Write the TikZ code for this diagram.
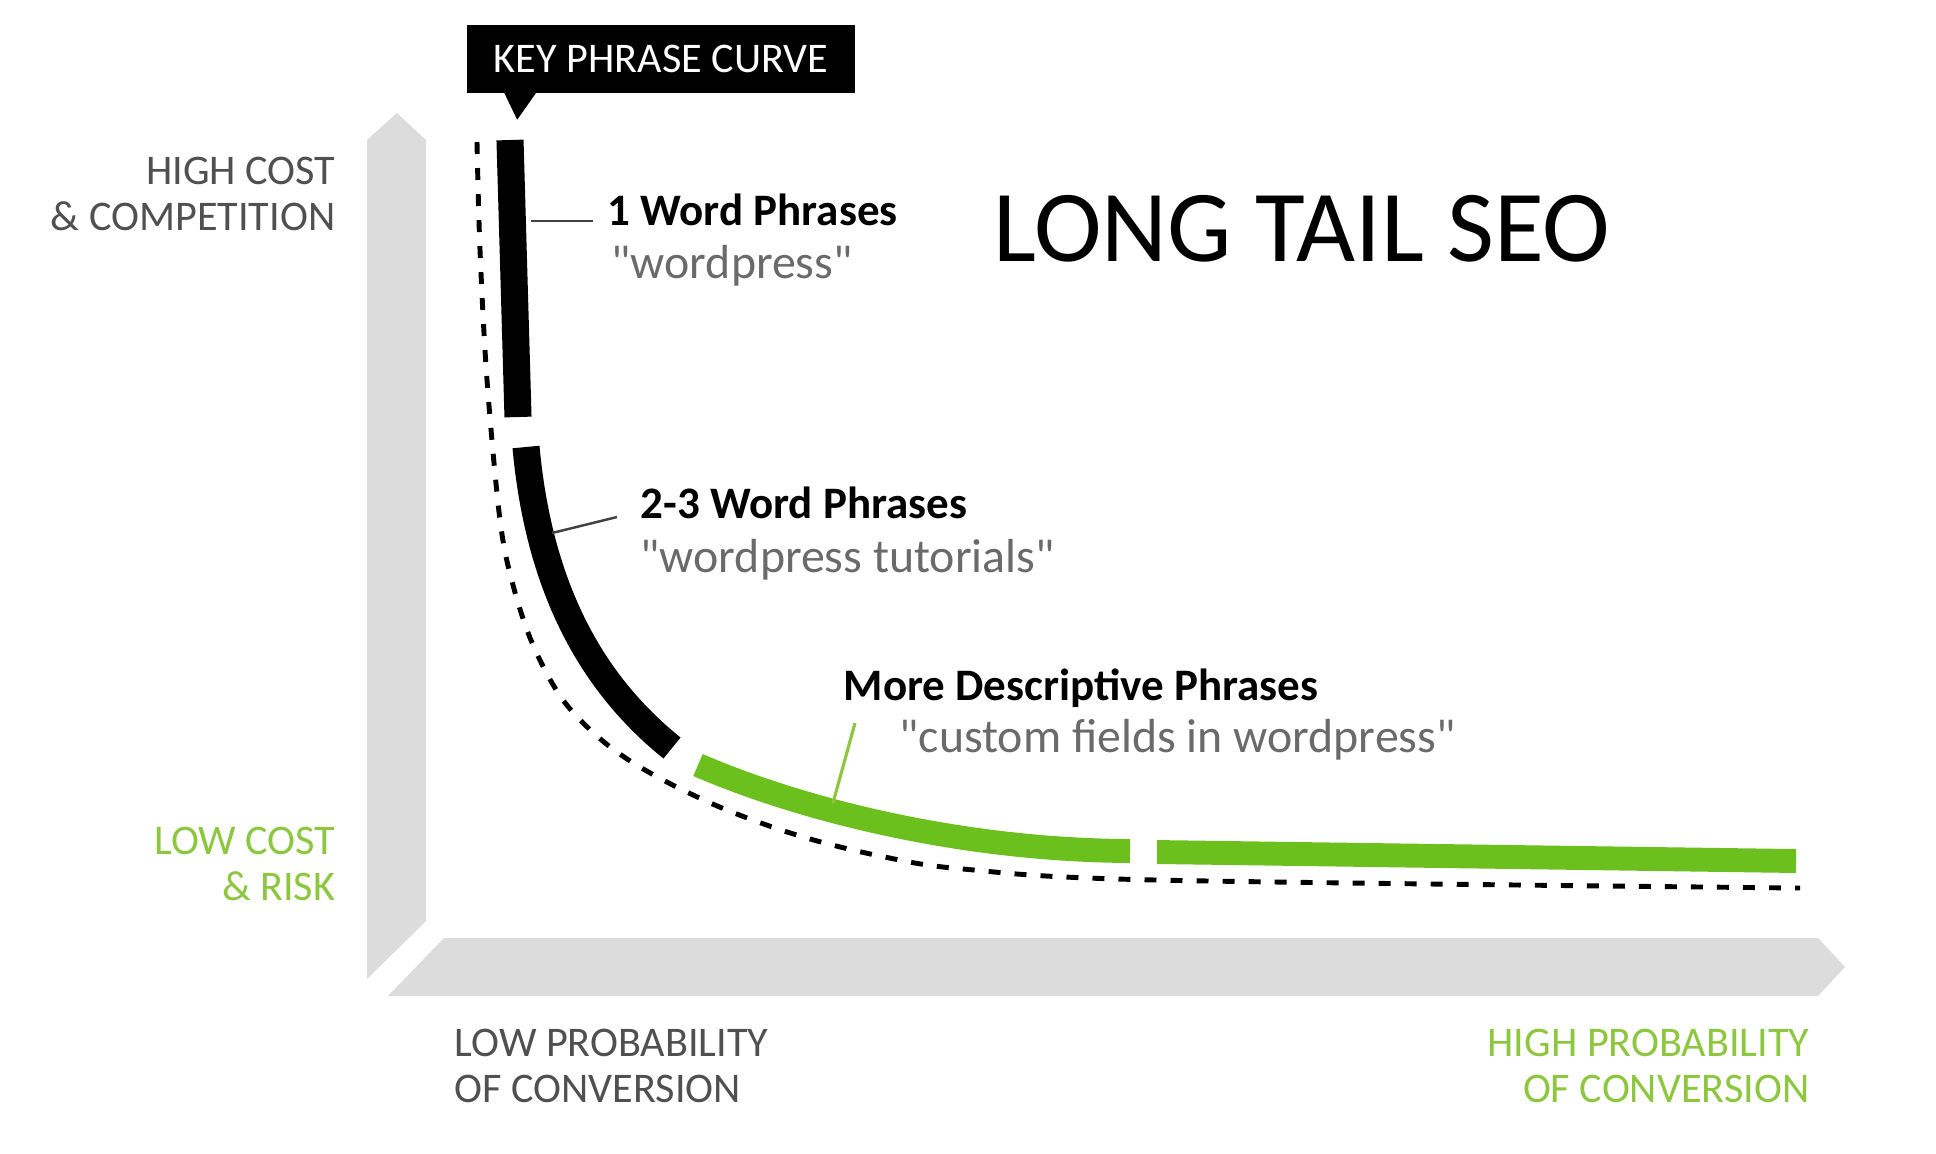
\documentclass[tikz,border=0pt]{standalone}
\usepackage{fontspec}
\setmainfont{Carlito}
\usepackage{tikz}
\usetikzlibrary{positioning}
\usepackage{xcolor}
\definecolor{barGray}{HTML}{DCDCDC}
\definecolor{capGray}{HTML}{505050}
\definecolor{quoteGray}{HTML}{6A6A6A}
\definecolor{curveGreen}{HTML}{6CC01E}
\definecolor{labelGreen}{HTML}{8DC63F}

\begin{document}
\begin{tikzpicture}[x=0.01cm, y=-0.01cm,
        axislabel/.style={font=\fontsize{12}{13}\selectfont, inner sep=0pt, text=capGray},
        phrase/.style={font=\bfseries\fontsize{12.8}{14}\selectfont, inner sep=0pt, anchor=base west},
        example/.style={font=\fontsize{13.6}{15}\selectfont, inner sep=0pt, anchor=base west, text=quoteGray},
        blackpart/.style={line width=7.7pt, black},
        greenpart/.style={line width=6.8pt, curveGreen},
        dashline/.style={line width=1.4pt, dash pattern=on 3.4pt off 4pt},
        leader/.style={line width=0.7pt, black!75}]
        \useasboundingbox (0,0) rectangle (1936,1153);
        % Axes
        \fill[barGray] (367,140) -- (397,113) -- (426,140) -- (426,921) -- (367,979) -- cycle;
        \fill[barGray] (444,938) -- (1818,938) -- (1845,967) -- (1818,996) -- (388,996) -- cycle;
        % Axis labels
        \node[axislabel, anchor=east, align=right] (highcost) at (336,194) {HIGH COST\\\& COMPETITION};
        \node[axislabel, anchor=east, align=right, text=labelGreen] (lowcost) at (336,864) {LOW COST\\\& RISK};
        \node[axislabel, anchor=west, align=left] (lowprob) at (454,1066) {LOW PROBABILITY\\OF CONVERSION};
        \node[axislabel, anchor=east, align=right, text=labelGreen] (highprob) at (1810,1066) {HIGH PROBABILITY\\OF CONVERSION};
        % Title
        \node[font=\fontsize{29}{32}\selectfont, inner sep=0pt, anchor=west] (title) at (993,229) {LONG TAIL SEO};
        % Key phrase box
        \node[fill=black, text=white, font=\fontsize{12}{14}\selectfont, minimum width=3.88cm, minimum height=0.68cm] (keybox) at (661,59) {KEY PHRASE CURVE};
        \fill (keybox.south west) ++(38,-1) -- ++(13,27) -- ++(19,-27) -- cycle;
        % Dashed curve
        \draw[dashline] plot[smooth, tension=0.55] coordinates {(477,142) (480,250) (487,380) (500,520) (513,585) (533,645) (563,700) (604,742) (652,774) (722,808) (800,836) (880,856) (963,869) (1156,880) (1800,888)};
        % Key phrase curve
        \draw[blackpart] (510,140) -- (518,417);
        \draw[blackpart] (526,447) .. controls (540,600) and (600,690) .. (672,748);
        \draw[greenpart] (698,765) .. controls (790,805) and (950,850) .. (1130,851);
        \draw[greenpart] (1157,852) -- (1796,861);
        % Points on the curve
        \coordinate (c1) at (531,221);
        \coordinate (c23) at (552,533);
        \coordinate (cmore) at (833,803);
        % Phrases
        \node[phrase] (word1) at (607,225) {1 Word Phrases};
        \node[example] (ex1) at (611,278) {\textquotedbl wordpress\textquotedbl};
        \node[phrase] (word23) at (640,518) {2-3 Word Phrases};
        \node[example] (ex23) at (640,572) {\textquotedbl wordpress tutorials\textquotedbl};
        \node[phrase] (more) at (843,700) {More Descriptive Phrases};
        \node[example] (exmore) at (899,752) {\textquotedbl custom fields in wordpress\textquotedbl};
        % Leaders
        \draw[leader] (c1) -- ([shift={(-14,-4)}]word1.base west);
        \draw[leader] (c23) -- ([shift={(-23,-1)}]word23.base west);
        \draw[line width=0.9pt, labelGreen] (cmore) -- ([shift={(12,23)}]more.base west);
\end{tikzpicture}
\end{document}
